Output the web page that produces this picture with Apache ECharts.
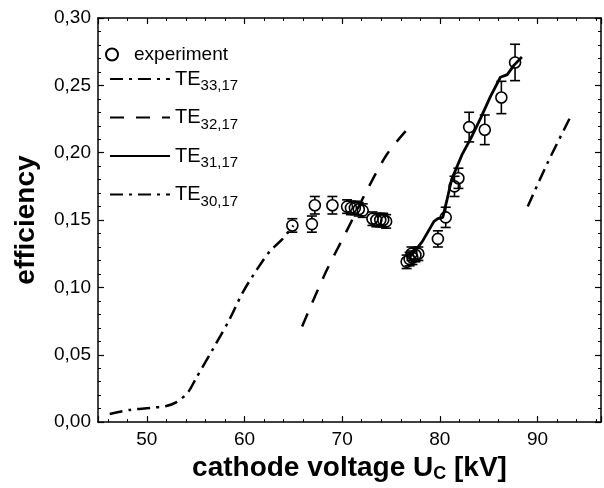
<!DOCTYPE html>
<html><head><meta charset="utf-8">
<script src="https://cdn.jsdelivr.net/npm/echarts@6/dist/echarts.min.js"></script>
<style>html,body{margin:0;padding:0;background:#fff}#c{width:604px;height:488px}</style>
</head><body><div id="c"></div>
<script>
// ---- data ----
const expX   = [64.9, 66.9, 67.2, 69.0, 70.5, 70.9, 71.3, 71.7, 72.1, 73.1, 73.5, 73.9, 74.2, 74.5, 76.6, 76.9, 77.2, 77.5, 77.8, 77.1, 79.8, 80.6, 81.5, 81.9, 83.0, 84.6, 86.3, 87.7];
const expY   = [0.146, 0.147, 0.161, 0.161, 0.160, 0.159, 0.159, 0.158, 0.157, 0.151, 0.150, 0.150, 0.150, 0.149, 0.119, 0.121, 0.122, 0.124, 0.125, 0.125, 0.136, 0.152, 0.175, 0.181, 0.219, 0.217, 0.241, 0.267];
const expErr = [0.005, 0.006, 0.0065, 0.0065, 0.005, 0.005, 0.005, 0.005, 0.005, 0.005, 0.005, 0.005, 0.005, 0.005, 0.005, 0.005, 0.005, 0.005, 0.005, 0.005, 0.006, 0.0075, 0.0075, 0.0075, 0.011, 0.011, 0.012, 0.0135];

const te33X = [46.2, 48.2, 50.3, 52.0, 53.0, 54.2, 55.0, 56.75, 58.45, 59.8, 60.8, 62.5, 63.9, 65.0];
const te33Y = [0.006, 0.009, 0.0105, 0.012, 0.0146, 0.022, 0.032, 0.054, 0.076, 0.096, 0.108, 0.126, 0.136, 0.146];

const te32X = [65.9, 68.3, 70.4, 72.6, 74.6, 76.5];
const te32Y = [0.071, 0.111, 0.141, 0.173, 0.199, 0.216];

const te31X = [77.0, 78.2, 79.4, 79.8, 80.3, 80.7, 81.2, 82.3, 83.2, 84.2, 85.2, 86.2, 86.9, 87.6, 88.4];
const te31Y = [0.123, 0.134, 0.149, 0.151, 0.152, 0.164, 0.180, 0.199, 0.211, 0.226, 0.242, 0.256, 0.258, 0.265, 0.271];

const te30X = [89.0, 91.0, 93.4];
const te30Y = [0.160, 0.192, 0.227];

const seriesNames = ['experiment', 'TE33,17', 'TE32,17', 'TE31,17', 'TE30,17'];
const legendMain = ['TE', 'TE', 'TE', 'TE'];
const legendSub = ['33,17', '32,17', '31,17', '30,17'];

const xMin = 45, xMax = 96.5, yMin = 0, yMax = 0.30, yStep = 0.05;

// ---- build ----
const zip = (xs, ys) => xs.map((x, i) => [x, ys[i]]);
const FONT = 'Liberation Sans, Arial, Helvetica, sans-serif';
const errData = expX.map((x, i) => [x, expY[i] - expErr[i], expY[i] + expErr[i], expY[i]]);
const R = 5.5;

const chart = echarts.init(document.getElementById('c'), null, {renderer: 'canvas'});
const axisCommon = () => ({
  axisLine: {onZero: false, lineStyle: {color: '#000', width: 1.5}},
  axisTick: {inside: true, length: 6, lineStyle: {color: '#000', width: 1.2}},
  minorTick: {show: true, splitNumber: 5, length: 3, lineStyle: {color: '#000', width: 1}},
  splitLine: {show: false}
});

chart.setOption({
  animation: false,
  backgroundColor: '#fff',
  grid: {left: 98, right: 3, top: 18, bottom: 65, containLabel: false},
  xAxis: [
    Object.assign(axisCommon(), {
      type: 'value', min: xMin, max: xMax, splitNumber: 5, position: 'bottom',
      axisLabel: {showMinLabel: false, showMaxLabel: false, color: '#000', fontFamily: FONT, fontSize: 19, margin: 8},
      name: 'cathode voltage U{sub|C} [kV]', nameLocation: 'middle', nameGap: 29,
      nameTextStyle: {color: '#000', fontFamily: FONT, fontSize: 28, fontWeight: 'bold',
        rich: {sub: {fontSize: 18, fontWeight: 'bold', fontFamily: FONT, verticalAlign: 'bottom', padding: [12, 0, 0, 0]}}}
    }),
    Object.assign(axisCommon(), {
      type: 'value', min: xMin, max: xMax, splitNumber: 5, position: 'top',
      axisLabel: {show: false}
    })
  ],
  yAxis: [
    Object.assign(axisCommon(), {
      type: 'value', min: yMin, max: yMax, interval: yStep, position: 'left',
      axisLabel: {color: '#000', fontFamily: FONT, fontSize: 19, margin: 7,
        formatter: v => v.toFixed(2).replace('.', ',')},
      name: 'efficiency', nameLocation: 'middle', nameGap: 58, nameRotate: 90,
      nameTextStyle: {color: '#000', fontFamily: FONT, fontSize: 28, fontWeight: 'bold'}
    }),
    Object.assign(axisCommon(), {
      type: 'value', min: yMin, max: yMax, interval: yStep, position: 'right',
      axisLabel: {show: false}
    })
  ],
  legend: [
    {
      data: [seriesNames[0]], orient: 'vertical', left: 100, top: 40,
      itemWidth: 34, itemHeight: 12, itemGap: 4,
      textStyle: {color: '#000', fontFamily: FONT, fontSize: 19}
    },
    {
      data: seriesNames.slice(1), orient: 'vertical', left: 104, top: 64,
      itemWidth: 60, itemHeight: 14, itemGap: 14,
      itemStyle: {opacity: 0},
      formatter: name => {
        const i = seriesNames.indexOf(name) - 1;
        return '{m|' + legendMain[i] + '}{s|' + legendSub[i] + '}';
      },
      textStyle: {color: '#000', fontFamily: FONT, fontSize: 19,
        rich: {m: {fontSize: 20, fontFamily: FONT, color: '#000'},
               s: {fontSize: 15, fontFamily: FONT, color: '#000', padding: [14, 0, 0, 0]}}}
    }
  ],
  series: [
    {
      name: 'errbars', type: 'custom', data: errData, z: 3,
      encode: {x: 0, y: [1, 2]},
      renderItem: (params, api) => {
        const x = api.value(0);
        const pTop = api.coord([x, api.value(2)]);
        const pBot = api.coord([x, api.value(1)]);
        const pC = api.coord([x, api.value(3)]);
        const st = {stroke: '#000', lineWidth: 1.6};
        const w = 5;
        const ch = [];
        if (pC[1] - R > pTop[1]) ch.push({type: 'line', shape: {x1: pTop[0], y1: pTop[1], x2: pTop[0], y2: pC[1] - R}, style: st});
        if (pBot[1] > pC[1] + R) ch.push({type: 'line', shape: {x1: pBot[0], y1: pC[1] + R, x2: pBot[0], y2: pBot[1]}, style: st});
        ch.push({type: 'line', shape: {x1: pTop[0] - w, y1: pTop[1], x2: pTop[0] + w, y2: pTop[1]}, style: st});
        ch.push({type: 'line', shape: {x1: pBot[0] - w, y1: pBot[1], x2: pBot[0] + w, y2: pBot[1]}, style: st});
        return {type: 'group', children: ch};
      }
    },
    {
      name: seriesNames[0], type: 'scatter', data: zip(expX, expY), z: 4,
      symbol: 'circle', symbolSize: 2 * R,
      itemStyle: {color: 'rgba(0,0,0,0)', borderColor: '#000', borderWidth: 1.6, opacity: 1}
    },
    {
      name: seriesNames[1], type: 'line', data: zip(te33X, te33Y), smooth: 0.3, symbol: 'none',
      itemStyle: {color: '#000'},
      lineStyle: {color: '#000', width: 2.5, type: [13, 6, 3, 6]}
    },
    {
      name: seriesNames[2], type: 'line', data: zip(te32X, te32Y), smooth: 0.3, symbol: 'none',
      itemStyle: {color: '#000'},
      lineStyle: {color: '#000', width: 2.5, type: [14, 12]}
    },
    {
      name: seriesNames[3], type: 'line', data: zip(te31X, te31Y), smooth: false, symbol: 'none',
      itemStyle: {color: '#000'},
      lineStyle: {color: '#000', width: 2.8, type: 'solid'}
    },
    {
      name: seriesNames[4], type: 'line', data: zip(te30X, te30Y), smooth: 0.3, symbol: 'none',
      itemStyle: {color: '#000'},
      lineStyle: {color: '#000', width: 2.5, type: [13, 6, 3, 6]}
    }
  ]
});
</script>
</body></html>
